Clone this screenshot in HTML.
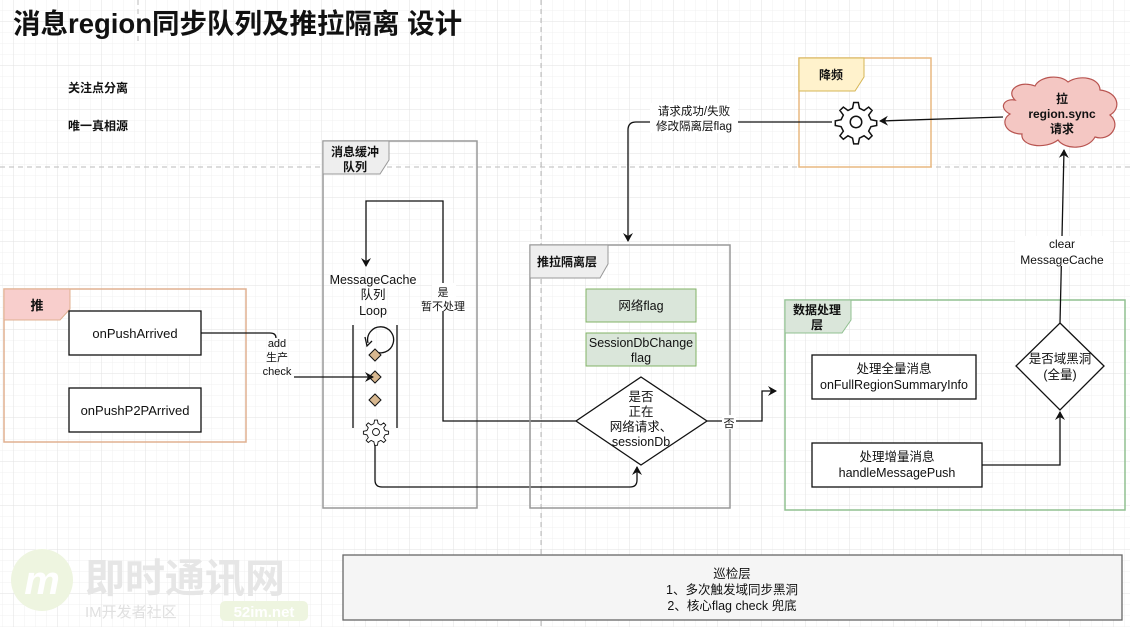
<!DOCTYPE html>
<html><head><meta charset="utf-8"><style>
html,body{margin:0;padding:0;background:#fff}
svg text{font-family:"Liberation Sans","Noto Sans CJK SC",sans-serif;fill:#111}
</style></head><body>
<svg width="1130" height="627" viewBox="0 0 1130 627" xmlns="http://www.w3.org/2000/svg">
<defs>
<pattern id="g" width="11" height="11" patternUnits="userSpaceOnUse"><path d="M11 0V11H0" fill="none" stroke="#f0f0f0" stroke-width="1"/></pattern>
<pattern id="G" width="44" height="44" patternUnits="userSpaceOnUse" x="14" y="22"><rect width="44" height="44" fill="url(#g)"/><path d="M44 0V44H0" fill="none" stroke="#e2e2e2" stroke-width="1"/></pattern>
<marker id="a" markerWidth="10" markerHeight="10" refX="8" refY="5" orient="auto" markerUnits="userSpaceOnUse"><path d="M0,0 L9,5 L0,10 L3,5z" fill="#111"/></marker>
<g id="gear"><path d="M0,-17 l4,0 l1,5 l4,2 l4,-3 l3,3 l-3,4 l2,4 l5,1 l0,4 l-5,1 l-2,4 l3,4 l-3,3 l-4,-3 l-4,2 l-1,5 l-4,0 l-1,-5 l-4,-2 l-4,3 l-3,-3 l3,-4 l-2,-4 l-5,-1 l0,-4 l5,-1 l2,-4 l-3,-4 l3,-3 l4,3 l4,-2z" transform="translate(-2,0)" fill="#fff" stroke="#111" stroke-width="1.3"/><circle r="5" fill="none" stroke="#111" stroke-width="1.3"/></g>
</defs>
<rect width="1130" height="627" fill="#fff"/>
<rect width="1130" height="627" fill="url(#G)"/>
<line x1="0" y1="167" x2="1130" y2="167" stroke="#bbb" stroke-dasharray="5,4"/>
<line x1="541" y1="0" x2="541" y2="627" stroke="#bbb" stroke-dasharray="5,4"/>
<line x1="138" y1="0" x2="138" y2="45" stroke="#bbb" stroke-dasharray="5,4"/>

<text x="13" y="33" font-size="27.5" font-weight="bold">消息region同步队列及推拉隔离 设计</text>
<text x="68" y="92" font-size="12" font-weight="bold">关注点分离</text>
<text x="68" y="130" font-size="12" font-weight="bold">唯一真相源</text>

<!-- 推 -->
<rect x="4" y="289" width="242" height="153" fill="none" stroke="#e0b090" stroke-width="1.5"/>
<path d="M4,289 H70 V309 L60,320 H4z" fill="#f8cecc" stroke="#e0b090"/>
<text x="37" y="310" font-size="13" font-weight="bold" text-anchor="middle">推</text>
<rect x="69" y="311" width="132" height="44" fill="#fff" stroke="#111" stroke-width="1.3"/>
<text x="135" y="338" font-size="13" text-anchor="middle">onPushArrived</text>
<rect x="69" y="388" width="132" height="44" fill="#fff" stroke="#111" stroke-width="1.3"/>
<text x="135" y="415" font-size="13" text-anchor="middle">onPushP2PArrived</text>

<!-- 消息缓冲队列 -->
<rect x="323" y="141" width="154" height="367" fill="none" stroke="#999" stroke-width="1.5"/>
<path d="M323,141 H389 V160 L380,174 H323z" fill="#eee" stroke="#999"/>
<text x="355" y="156" font-size="12" font-weight="bold" text-anchor="middle">消息缓冲</text>
<text x="355" y="171" font-size="12" font-weight="bold" text-anchor="middle">队列</text>
<text x="373" y="284" font-size="12.5" text-anchor="middle">MessageCache</text>
<text x="373" y="299" font-size="12.5" text-anchor="middle">队列</text>
<text x="373" y="315" font-size="12.5" text-anchor="middle">Loop</text>
<line x1="353" y1="325" x2="353" y2="428" stroke="#111" stroke-width="1.3"/>
<line x1="397" y1="325" x2="397" y2="428" stroke="#111" stroke-width="1.3"/>
<path d="M368,343 A13,13 0 1 1 374,351" fill="none" stroke="#111" stroke-width="1.3"/>
<path d="M365,337 l2,9 l5,-5" fill="none" stroke="#111" stroke-width="1.3"/>
<path d="M375,349 l6,6 l-6,6 l-6,-6z" fill="#d8b890" stroke="#111"/>
<path d="M375,371 l6,6 l-6,6 l-6,-6z" fill="#d8b890" stroke="#111"/>
<path d="M375,394 l6,6 l-6,6 l-6,-6z" fill="#d8b890" stroke="#111"/>
<use href="#gear" transform="translate(376,432) scale(0.7)"/>

<!-- connectors left -->
<path d="M201,333 H270 Q276,333 276,338" fill="none" stroke="#111" stroke-width="1.3"/>
<text x="277" y="347" font-size="11" text-anchor="middle">add</text>
<text x="277" y="361" font-size="11" text-anchor="middle">生产</text>
<text x="277" y="375" font-size="11" text-anchor="middle">check</text>
<line x1="294" y1="377" x2="373" y2="377" stroke="#111" stroke-width="1.3" marker-end="url(#a)"/>
<path d="M576,421 H443 V201 H366 V266" fill="none" stroke="#111" stroke-width="1.3" marker-end="url(#a)"/>
<rect x="432" y="283" width="24" height="28" fill="#fff"/>
<text x="443" y="296" font-size="11" text-anchor="middle">是</text>
<text x="443" y="310" font-size="11" text-anchor="middle">暂不处理</text>
<path d="M375,445 V480 Q375,487 382,487 H630 Q637,487 637,480 V467" fill="none" stroke="#111" stroke-width="1.3" marker-end="url(#a)"/>

<!-- 推拉隔离层 -->
<rect x="530" y="245" width="200" height="263" fill="none" stroke="#999" stroke-width="1.5"/>
<path d="M530,245 H608 V264 L600,278 H530z" fill="#eee" stroke="#999"/>
<text x="567" y="266" font-size="12" font-weight="bold" text-anchor="middle">推拉隔离层</text>
<rect x="586" y="289" width="110" height="33" fill="#dae6da" stroke="#82b366"/>
<text x="641" y="310" font-size="12.5" text-anchor="middle">网络flag</text>
<rect x="586" y="333" width="110" height="33" fill="#dae6da" stroke="#82b366"/>
<text x="641" y="347" font-size="12.5" text-anchor="middle">SessionDbChange</text>
<text x="641" y="362" font-size="12.5" text-anchor="middle">flag</text>
<path d="M641,377 L707,421 L641,465 L576,421z" fill="#fff" stroke="#111" stroke-width="1.3"/>
<text x="641" y="401" font-size="12.5" text-anchor="middle">是否</text>
<text x="641" y="416" font-size="12.5" text-anchor="middle">正在</text>
<text x="641" y="431" font-size="12.5" text-anchor="middle">网络请求、</text>
<text x="641" y="446" font-size="12.5" text-anchor="middle">sessionDb</text>
<path d="M707,421 H762 V391 H776" fill="none" stroke="#111" stroke-width="1.3" marker-end="url(#a)"/>
<rect x="722" y="415" width="14" height="14" fill="#fff"/>
<text x="729" y="427" font-size="11" text-anchor="middle">否</text>

<!-- 数据处理层 -->
<rect x="785" y="300" width="340" height="210" fill="none" stroke="#90c090" stroke-width="1.5"/>
<path d="M785,300 H851 V320 L842,333 H785z" fill="#dae6da" stroke="#90c090"/>
<text x="817" y="314" font-size="12" font-weight="bold" text-anchor="middle">数据处理</text>
<text x="817" y="329" font-size="12" font-weight="bold" text-anchor="middle">层</text>
<rect x="812" y="355" width="164" height="44" fill="#fff" stroke="#111" stroke-width="1.3"/>
<text x="894" y="373" font-size="12.5" text-anchor="middle">处理全量消息</text>
<text x="894" y="389" font-size="12.5" text-anchor="middle">onFullRegionSummaryInfo</text>
<rect x="812" y="443" width="170" height="44" fill="#fff" stroke="#111" stroke-width="1.3"/>
<text x="897" y="461" font-size="12.5" text-anchor="middle">处理增量消息</text>
<text x="897" y="477" font-size="12.5" text-anchor="middle">handleMessagePush</text>
<path d="M1060,323 L1104,366 L1060,410 L1016,366z" fill="#fff" stroke="#111" stroke-width="1.3"/>
<text x="1060" y="363" font-size="12.5" text-anchor="middle">是否域黑洞</text>
<text x="1060" y="379" font-size="12.5" text-anchor="middle">(全量)</text>
<path d="M982,465 H1060 V412" fill="none" stroke="#111" stroke-width="1.3" marker-end="url(#a)"/>
<path d="M1060,323 L1064,150" fill="none" stroke="#111" stroke-width="1.3" marker-end="url(#a)"/>
<rect x="1015" y="236" width="95" height="30" fill="#fff"/>
<text x="1062" y="248" font-size="12" text-anchor="middle">clear</text>
<text x="1062" y="264" font-size="12" text-anchor="middle">MessageCache</text>

<!-- cloud -->
<path d="M1015,100 C1005,90 1020,80 1035,86 C1040,76 1060,74 1068,82 C1080,74 1100,78 1100,90 C1118,92 1122,108 1110,115 C1122,125 1110,142 1095,137 C1088,150 1065,150 1058,140 C1045,150 1020,146 1022,134 C1005,134 1000,120 1010,114 C998,108 1004,98 1015,100z" fill="#f4c7c3" stroke="#b85450" stroke-width="1.2"/>
<text x="1062" y="103" font-size="12" font-weight="bold" text-anchor="middle">拉</text>
<text x="1062" y="118" font-size="12" font-weight="bold" text-anchor="middle">region.sync</text>
<text x="1062" y="133" font-size="12" font-weight="bold" text-anchor="middle">请求</text>

<!-- 降频 -->
<rect x="799" y="58" width="132" height="109" fill="none" stroke="#e8b880" stroke-width="1.5"/>
<path d="M799,58 H864 V77 L855,91 H799z" fill="#fff2cc" stroke="#d6b656"/>
<text x="831" y="79" font-size="12" font-weight="bold" text-anchor="middle">降频</text>
<line x1="1003" y1="117" x2="880" y2="121" stroke="#111" stroke-width="1.3" marker-end="url(#a)"/>
<use href="#gear" transform="translate(856,122) scale(1.15)"/>
<path d="M832,122 H636 Q628,122 628,130 V241" fill="none" stroke="#111" stroke-width="1.3" marker-end="url(#a)"/>
<rect x="650" y="103" width="88" height="30" fill="#fff"/>
<text x="694" y="115" font-size="11.5" text-anchor="middle">请求成功/失败</text>
<text x="694" y="130" font-size="11.5" text-anchor="middle">修改隔离层flag</text>

<!-- bottom -->
<rect x="343" y="555" width="779" height="65" fill="#f5f5f5" stroke="#666" stroke-width="1.3"/>
<text x="732" y="578" font-size="12.5" text-anchor="middle">巡检层</text>
<text x="732" y="594" font-size="12.5" text-anchor="middle">1、多次触发域同步黑洞</text>
<text x="732" y="610" font-size="12.5" text-anchor="middle">2、核心flag check 兜底</text>

<!-- watermark -->
<circle cx="42" cy="580" r="31" fill="#eef5e0"/>
<text x="42" y="594" font-size="40" font-style="italic" font-weight="bold" text-anchor="middle" style="fill:#fff">m</text>
<text x="85" y="592" font-size="40" font-weight="bold" style="fill:#e6e6e6">即时通讯网</text>
<text x="85" y="617" font-size="15" style="fill:#e0e0e0">IM开发者社区</text>
<rect x="220" y="601" width="88" height="20" rx="5" fill="#eef5e0"/>
<text x="264" y="617" font-size="15" font-weight="bold" text-anchor="middle" style="fill:#fff">52im.net</text>
</svg>
</body></html>
